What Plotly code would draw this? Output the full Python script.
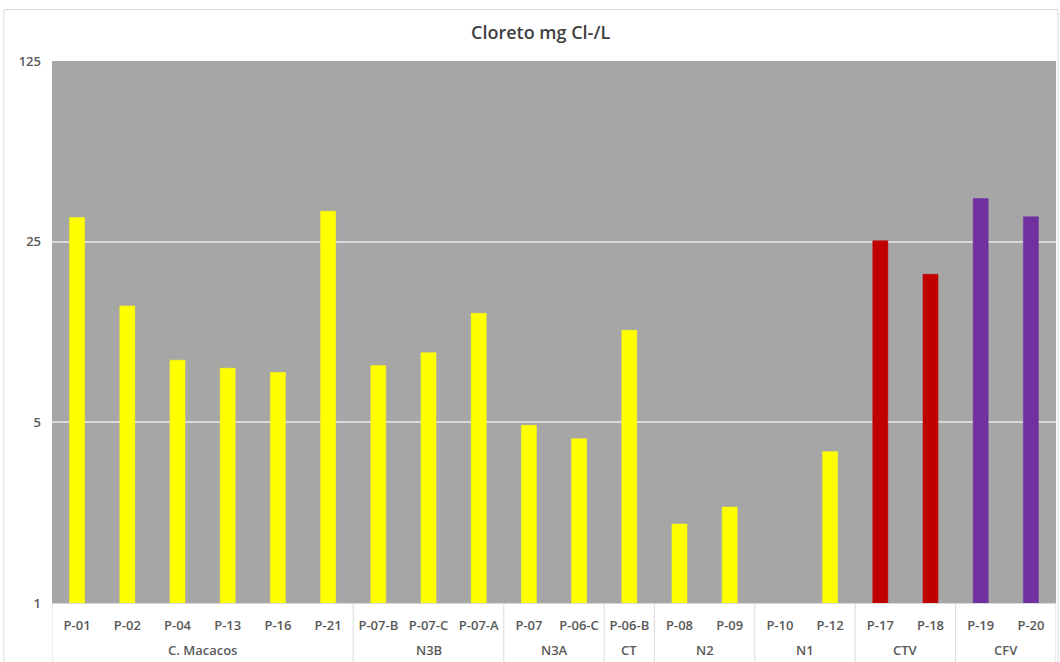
import plotly.graph_objects as go

groups = ["C. Macacos"] * 6 + ["N3B"] * 3 + ["N3A"] * 2 + ["CT"] + ["N2"] * 2 + ["N1"] * 2 + ["CTV"] * 2 + ["CFV"] * 2
points = ["P-01", "P-02", "P-04", "P-13", "P-16", "P-21",
          "P-07-B", "P-07-C", "P-07-A",
          "P-07", "P-06-C",
          "P-06-B",
          "P-08", "P-09",
          "P-10", "P-12",
          "P-17", "P-18",
          "P-19", "P-20"]
values = [31.0, 14.1, 8.7, 8.1, 7.8, 32.8,
          8.3, 9.3, 13.2,
          4.87, 4.32,
          11.35,
          2.02, 2.35,
          None, 3.85,
          25.2, 18.7,
          36.7, 31.2]
group_colors = {"CTV": "#C00000", "CFV": "#7030A0"}
colors = [group_colors.get(g, "#FFFF00") for g in groups]

y_ticks = [1, 5, 25, 125]

fig = go.Figure(go.Bar(
    x=points,
    y=values,
    marker=dict(color=colors, line=dict(color=colors, width=0.5)),
    width=0.3,
))

TXT = "#595959"
DIV = "#D9D9D9"

fig.update_layout(
    width=1060, height=662,
    paper_bgcolor="white",
    plot_bgcolor="#A6A6A6",
    margin=dict(l=52, r=4, t=61, b=59),
    title=dict(text="Cloreto mg Cl-/L", x=0.51, xanchor="center", y=0.95, yanchor="middle",
               font=dict(family="Open Sans", size=18, color="#404040", weight=600)),
    font=dict(family="Open Sans", size=13, color=TXT),
    showlegend=False,
    bargap=0.7,
)
fig.update_yaxes(
    type="log", range=[0, 2.09691], tickvals=y_ticks, ticktext=[str(v) for v in y_ticks],
    showgrid=True, gridcolor=DIV, gridwidth=1.5, zeroline=False, showline=False,
    tickfont=dict(size=13, color=TXT, weight=600), ticks="", ticklabelstandoff=10,
)
fig.update_xaxes(
    type="category", range=[-0.5, len(points) - 0.5],
    showline=True, linecolor=DIV, linewidth=1,
    tickfont=dict(size=13, color=TXT, weight=600), ticks="", ticklabelstandoff=10,
)

# group boundaries, dividers and labels derived from the groups list
bounds = []
start = 0
for i in range(1, len(groups) + 1):
    if i == len(groups) or groups[i] != groups[start]:
        bounds.append((groups[start], start, i - 1))
        start = i
edges = sorted({b[1] - 0.5 for b in bounds} | {b[2] + 0.5 for b in bounds})
for e in edges:
    fig.add_shape(type="line", xref="x", yref="paper", x0=e, x1=e, y0=0, y1=-0.11,
                  line=dict(color=DIV, width=1))
for name, a, b in bounds:
    fig.add_annotation(x=(a + b) / 2, y=-0.0867, xref="x", yref="paper",
                       text=name, showarrow=False, yanchor="middle",
                       font=dict(size=13, color=TXT, weight=600))

fig.add_shape(type="rect", xref="paper", yref="paper",
              x0=-0.048, x1=1.002, y0=-0.118, y1=1.095,
              line=dict(color=DIV, width=1), layer="below")

fig.write_html("out.html", config={"displayModeBar": False},
               post_script="document.body.style.margin='0';")
